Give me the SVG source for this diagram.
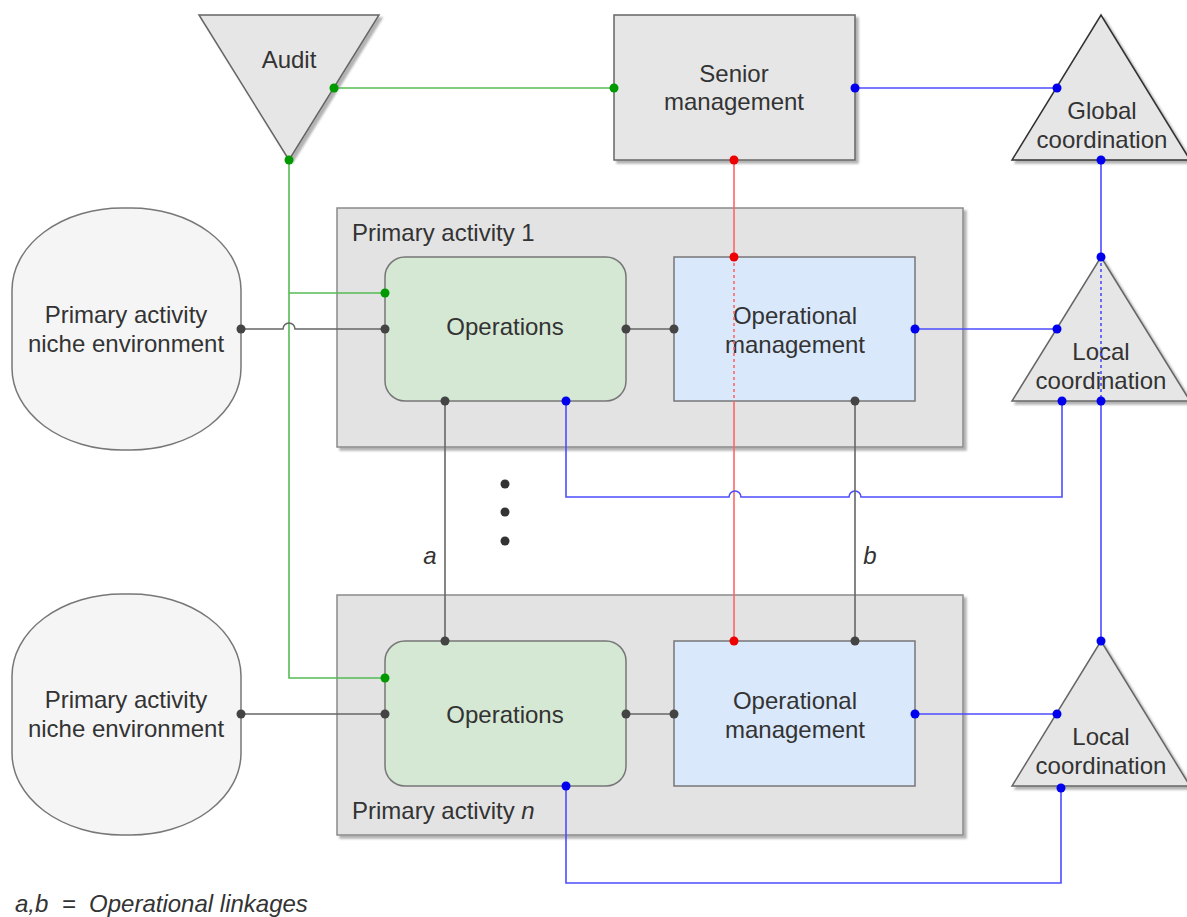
<svg xmlns="http://www.w3.org/2000/svg" width="1187" height="917" viewBox="0 0 1187 917">
  <defs>
    <filter id="shadow" x="-10%" y="-10%" width="130%" height="130%">
      <feDropShadow dx="3" dy="3" stdDeviation="1" flood-color="#000" flood-opacity="0.3"/>
    </filter>
    <style>
      text { font-family: "Liberation Sans", Arial, sans-serif; font-size: 24px; fill: #333; text-anchor: middle; }
      .lbl { text-anchor: start; }
      .it { font-style: italic; }
      .grey { fill: #e6e6e6; stroke: #666; stroke-width: 1.5; }
      .container { fill: #e3e3e3; stroke: #8a8a8a; stroke-width: 1.5; }
      .ops { fill: #d5e8d4; stroke: #777; stroke-width: 1.5; }
      .mgmt { fill: #dae8fc; stroke: #777; stroke-width: 1.5; }
      .env { fill: #f5f5f5; stroke: #777; stroke-width: 1.5; }
      .ln { fill: none; stroke-width: 1.6; }
      .g { stroke: #55bb55; }
      .b { stroke: #4d4dff; }
      .r { stroke: #ff6666; }
      .k { stroke: #666; }
      .dash { stroke-dasharray: 3 3; }
      .dg { fill: #009900; }
      .db { fill: #0000ee; }
      .dr { fill: #ee0000; }
      .dk { fill: #444; }
    </style>
  </defs>
  <rect width="1187" height="917" fill="#fff"/>

  <!-- containers -->
  <g id="primary-activity-1">
    <rect class="container" x="337" y="208" width="626" height="239" filter="url(#shadow)"/>
    <text class="lbl" x="352" y="241">Primary activity 1</text>
  </g>
  <g id="primary-activity-n">
    <rect class="container" x="337" y="595" width="626" height="240" filter="url(#shadow)"/>
    <text class="lbl" x="352" y="819">Primary activity <tspan class="it">n</tspan></text>
  </g>

  <!-- top row -->
  <g id="audit">
    <polygon class="grey" points="199,15 379,15 289,160" filter="url(#shadow)"/>
    <text x="289" y="68">Audit</text>
  </g>
  <g id="senior-management">
    <rect class="grey" x="614" y="15" width="241" height="145" filter="url(#shadow)"/>
    <text x="734" y="82">Senior</text>
    <text x="734" y="110">management</text>
  </g>
  <g id="global-coordination">
    <polygon class="grey" points="1101,15 1190,160 1012,160" style="stroke:#333" filter="url(#shadow)"/>
    <text x="1102" y="119">Global</text>
    <text x="1102" y="148">coordination</text>
  </g>

  <!-- environments -->
  <g id="niche-environment-1">
    <rect class="env" x="12" y="208" width="229" height="242" rx="110" ry="82"/>
    <text x="126" y="323">Primary activity</text>
    <text x="126" y="352">niche environment</text>
  </g>
  <g id="niche-environment-n">
    <rect class="env" x="12" y="594" width="229" height="241" rx="110" ry="82"/>
    <text x="126" y="708">Primary activity</text>
    <text x="126" y="737">niche environment</text>
  </g>

  <!-- primary activity 1 contents -->
  <g id="operations-1">
    <rect class="ops" x="385" y="257" width="241" height="144" rx="20"/>
    <text x="505" y="335">Operations</text>
  </g>
  <g id="operational-management-1">
    <rect class="mgmt" x="674" y="257" width="241" height="144"/>
    <text x="795" y="324">Operational</text>
    <text x="795" y="353">management</text>
  </g>
  <g id="local-coordination-1">
    <polygon class="grey" points="1101,257 1190,401 1012,401" filter="url(#shadow)"/>
    <text x="1101" y="360">Local</text>
    <text x="1101" y="389">coordination</text>
  </g>

  <!-- primary activity n contents -->
  <g id="operations-n">
    <rect class="ops" x="385" y="641" width="241" height="145" rx="20"/>
    <text x="505" y="723">Operations</text>
  </g>
  <g id="operational-management-n">
    <rect class="mgmt" x="674" y="641" width="241" height="145"/>
    <text x="795" y="709">Operational</text>
    <text x="795" y="738">management</text>
  </g>
  <g id="local-coordination-n">
    <polygon class="grey" points="1101,641 1190,786 1012,786" filter="url(#shadow)"/>
    <text x="1101" y="745">Local</text>
    <text x="1101" y="774">coordination</text>
  </g>

  <!-- ellipsis between activities -->
  <g id="more-activities" fill="#333">
    <circle cx="505" cy="484" r="4.5"/>
    <circle cx="505" cy="512" r="4.5"/>
    <circle cx="505" cy="541" r="4.5"/>
  </g>

  <!-- connectors -->
  <g id="connectors">
    <!-- audit links -->
    <path class="ln g" d="M334,88 H614"/>
    <path class="ln g" d="M289,160 V678 H385"/>
    <path class="ln g" d="M289,293 H385"/>
    <!-- senior management to operational management -->
    <path class="ln r" d="M734,160 V257"/>
    <path class="ln r dash" d="M734,257 V401"/>
    <path class="ln r" d="M734,401 V641"/>
    <!-- coordination chain -->
    <path class="ln b" d="M855,88 H1057"/>
    <path class="ln b" d="M1101,160 V257"/>
    <path class="ln b dash" d="M1101,257 V401"/>
    <path class="ln b" d="M1101,401 V641"/>
    <path class="ln b" d="M915,329 H1057"/>
    <path class="ln b" d="M915,714 H1057"/>
    <path class="ln b" d="M1062,401 V497 H861 A6,6 0 0 0 849,497 H741 A6,6 0 0 0 729,497 H566 V401"/>
    <path class="ln b" d="M1061,788 V883 H566 V786"/>
    <!-- environment and operational links -->
    <path class="ln k" d="M241,329 H283 A6,6 0 0 1 295,329 H385"/>
    <path class="ln k" d="M241,714 H385"/>
    <path class="ln k" d="M626,329 H674"/>
    <path class="ln k" d="M626,714 H674"/>
    <path class="ln k" d="M445,401 V641"/>
    <path class="ln k" d="M855,401 V641"/>

    <!-- connection points -->
    <g class="dg">
      <circle cx="334" cy="88" r="4.5"/>
      <circle cx="614" cy="88" r="4.5"/>
      <circle cx="289" cy="160" r="4.5"/>
      <circle cx="385" cy="293" r="4.5"/>
      <circle cx="385" cy="678" r="4.5"/>
    </g>
    <g class="dr">
      <circle cx="734" cy="160" r="4.5"/>
      <circle cx="734" cy="257" r="4.5"/>
      <circle cx="734" cy="641" r="4.5"/>
    </g>
    <g class="db">
      <circle cx="855" cy="88" r="4.5"/>
      <circle cx="1057" cy="88" r="4.5"/>
      <circle cx="1101" cy="160" r="4.5"/>
      <circle cx="1101" cy="257" r="4.5"/>
      <circle cx="1101" cy="401" r="4.5"/>
      <circle cx="1062" cy="401" r="4.5"/>
      <circle cx="915" cy="329" r="4.5"/>
      <circle cx="1057" cy="329" r="4.5"/>
      <circle cx="566" cy="401" r="4.5"/>
      <circle cx="1101" cy="641" r="4.5"/>
      <circle cx="915" cy="714" r="4.5"/>
      <circle cx="1057" cy="714" r="4.5"/>
      <circle cx="1061" cy="788" r="4.5"/>
      <circle cx="566" cy="786" r="4.5"/>
    </g>
    <g class="dk">
      <circle cx="241" cy="329" r="4.5"/>
      <circle cx="385" cy="329" r="4.5"/>
      <circle cx="626" cy="329" r="4.5"/>
      <circle cx="674" cy="329" r="4.5"/>
      <circle cx="445" cy="401" r="4.5"/>
      <circle cx="855" cy="401" r="4.5"/>
      <circle cx="241" cy="714" r="4.5"/>
      <circle cx="385" cy="714" r="4.5"/>
      <circle cx="626" cy="714" r="4.5"/>
      <circle cx="674" cy="714" r="4.5"/>
      <circle cx="445" cy="641" r="4.5"/>
      <circle cx="855" cy="641" r="4.5"/>
    </g>
    <text class="it" x="430" y="564">a</text>
    <text class="it" x="870" y="564">b</text>
  </g>

  <text class="lbl it" x="15" y="912" xml:space="preserve">a,b  =  Operational linkages</text>
</svg>
